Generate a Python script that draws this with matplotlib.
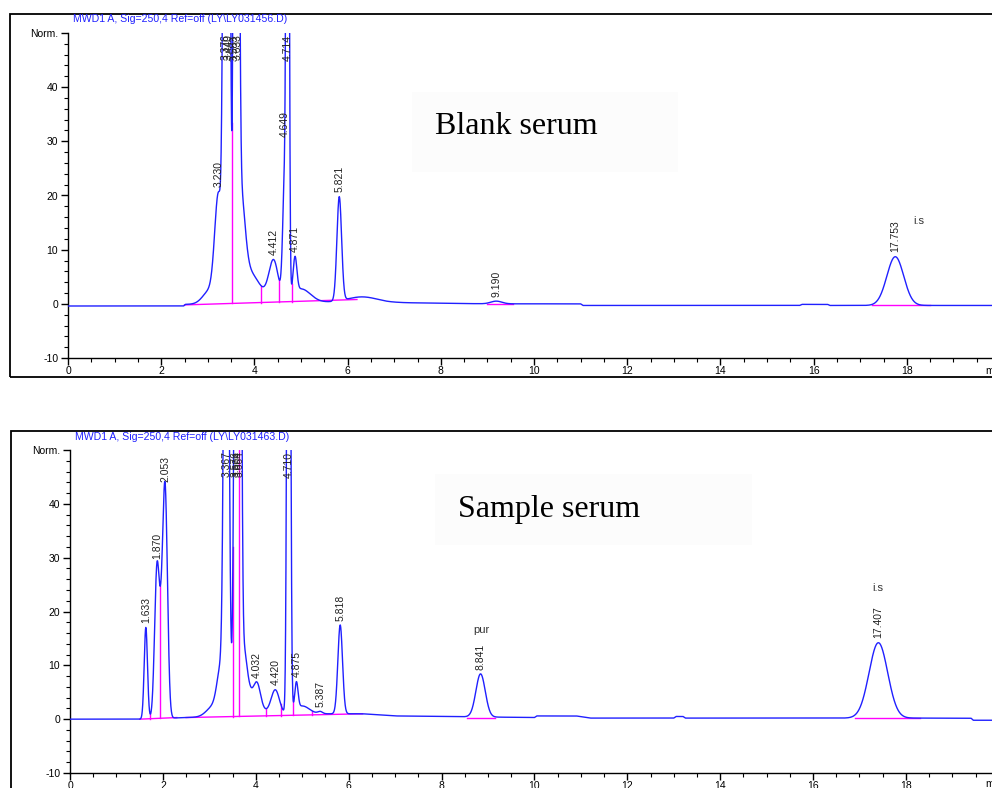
import numpy as np
import matplotlib
matplotlib.use("Agg")
import matplotlib.pyplot as plt
from matplotlib.patches import Rectangle

# ---------------- Blank serum (LY031456.D) ----------------
blank_title = "MWD1 A, Sig=250,4 Ref=off (LY\\LY031456.D)"
# integrated peaks: retention time (min), height (mAU), width (sigma, min)
blank_rt     = [3.230, 3.376, 3.440, 3.583, 3.633, 4.412, 4.649, 4.714, 4.871, 5.821, 9.190, 17.753]
blank_height = [19.0, 150.0, 150.0, 150.0, 150.0, 7.5, 22.0, 200.0, 6.5, 19.2, 0.5, 9.0]
blank_sigma  = [0.08, 0.04, 0.035, 0.03, 0.035, 0.10, 0.04, 0.025, 0.04, 0.05, 0.12, 0.18]
# unlabelled features of the trace (front, tails, humps)
blank_extra_rt     = [3.05, 3.70, 3.85, 5.00, 6.30]
blank_extra_height = [2.5, 16.0, 6.0, 2.5, 0.9]
blank_extra_sigma  = [0.15, 0.09, 0.25, 0.20, 0.30]
# detector baseline drift (min, mAU)
blank_base_t = [0.0, 2.48, 2.52, 5.3, 6.5, 7.3, 9.0, 11.0, 11.05, 15.7, 15.75, 16.3, 16.35, 20.0]
blank_base_v = [-0.4, -0.4, -0.1, 0.3, 0.4, 0.2, 0.0, 0.0, -0.3, -0.3, -0.1, -0.1, -0.3, -0.3]
# integration baselines (start, value, end, value) and peak drop lines (min)
blank_int_lines = [(2.50, -0.2, 6.20, 0.8), (9.00, 0.0, 9.55, 0.0), (17.25, -0.3, 18.50, -0.3)]
blank_drops = [3.52, 4.14, 4.53, 4.80]
blank_notes = [("i.s", 18.25, 15.3)]
blank_caption = "Blank serum"

# ---------------- Sample serum (LY031463.D) ----------------
sample_title = "MWD1 A, Sig=250,4 Ref=off (LY\\LY031463.D)"
sample_rt     = [1.633, 1.870, 2.053, 3.367, 3.576, 3.604, 3.664, 4.032, 4.420, 4.710, 4.875, 5.387, 5.818, 8.841, 17.407]
sample_height = [17.0, 26.0, 36.0, 150.0, 110.0, 120.0, 100.0, 3.5, 4.6, 200.0, 5.0, 0.4, 16.5, 8.0, 14.0]
sample_sigma  = [0.035, 0.05, 0.05, 0.045, 0.04, 0.03, 0.03, 0.07, 0.09, 0.03, 0.035, 0.05, 0.05, 0.10, 0.20]
sample_extra_rt     = [1.98, 3.10, 3.25, 3.72, 3.85, 5.00]
sample_extra_height = [15.0, 2.0, 8.0, 10.0, 4.0, 1.5]
sample_extra_sigma  = [0.06, 0.15, 0.08, 0.08, 0.20, 0.15]
sample_base_t = [0.0, 1.5, 2.5, 5.2, 6.3, 7.0, 10.0, 10.05, 10.9, 11.2, 13.0, 13.05, 13.2, 13.25, 19.4, 19.45, 20.0]
sample_base_v = [0.0, 0.0, 0.3, 1.0, 1.0, 0.6, 0.3, 0.6, 0.6, 0.2, 0.2, 0.5, 0.5, 0.2, 0.2, -0.2, -0.2]
sample_int_lines = [(1.50, 0.0, 2.30, 0.3), (2.50, 0.3, 6.30, 1.0), (8.55, 0.3, 9.15, 0.3), (16.90, 0.3, 18.30, 0.3)]
sample_drops = [1.72, 1.94, 3.51, 3.64, 4.22, 4.54, 4.80, 5.21, 5.60]
sample_notes = [("pur", 8.85, 16.6), ("i.s", 17.40, 24.4)]
sample_caption = "Sample serum"

YMIN, YMAX = -10, 50
t = np.linspace(0, 20, 10001)


def trace(rt, h, s, ert, eh, es, bt, bv):
    y = np.interp(t, bt, bv)
    for c, a, w in zip(list(rt) + list(ert), list(h) + list(eh), list(s) + list(es)):
        y = y + a * np.exp(-0.5 * ((t - c) / w) ** 2)
    return y


fig = plt.figure(figsize=(9.92, 7.88), dpi=100)
fig.patch.set_facecolor("white")
plt.rcParams["font.family"] = ["Liberation Sans", "DejaVu Sans"]

W, H = 992.0, 788.0


def px_rect(x0, y0, x1, y1):
    return [x0 / W, 1 - y1 / H, (x1 - x0) / W, (y1 - y0) / H]


def panel(ax_box, frame, xmax, title, title_xy, rt, h, s, ert, eh, es, bt, bv,
          int_lines, drops, notes, caption, cap_xy, cap_box, min_xy):
    # outer frame of the report page
    fx0, fy0, fx1, fy1 = frame
    fig.patches.append(Rectangle((fx0 / W, 1 - fy1 / H), (fx1 - fx0) / W, (fy1 - fy0) / H,
                                 transform=fig.transFigure, fill=False,
                                 edgecolor="black", linewidth=1.3))
    bx0, by0, bx1, by1 = cap_box
    fig.patches.append(Rectangle((bx0 / W, 1 - by1 / H), (bx1 - bx0) / W, (by1 - by0) / H,
                                 transform=fig.transFigure, facecolor="#fcfcfc",
                                 edgecolor="none", zorder=0))
    ax = fig.add_axes(px_rect(*ax_box))
    ax.patch.set_alpha(0)
    y = trace(rt, h, s, ert, eh, es, bt, bv)
    ax.plot(t, y, color="#2020ff", linewidth=1.0, zorder=3)

    # integration baselines and drop lines
    for (a0, v0, a1, v1) in int_lines:
        ax.plot([a0, a1], [v0, v1], color="#ff00ff", linewidth=1.0, zorder=2)

    def base_at(x):
        for (a0, v0, a1, v1) in int_lines:
            if a0 <= x <= a1:
                return v0 + (v1 - v0) * (x - a0) / (a1 - a0)
        return 0.0

    for d in drops:
        top = float(np.interp(d, t, y))
        ax.plot([d, d], [base_at(d), min(top, YMAX)], color="#ff00ff", linewidth=1.0, zorder=2)

    # retention time labels
    for c in rt:
        v = float(np.interp(c, t, y))
        if v > 44:
            ax.text(c, YMAX - 0.3, f"{c:.3f}", rotation=90, ha="center", va="top",
                    fontsize=7.5, color="#222222", zorder=4)
        else:
            ax.text(c, v + 0.8, f"{c:.3f}", rotation=90, ha="center", va="bottom",
                    fontsize=7.5, color="#222222", zorder=4)
    for txt, x, yy in notes:
        ax.text(x, yy, txt, ha="center", va="center", fontsize=8, color="#333333")

    ax.set_xlim(0, xmax)
    ax.set_ylim(YMIN, YMAX)
    for side in ("top", "right"):
        ax.spines[side].set_visible(False)
    ax.spines["left"].set_linewidth(1.0)
    ax.spines["bottom"].set_linewidth(1.0)
    ax.set_xticks(np.arange(0, 20, 2))
    ax.set_xticks(np.arange(0, 20, 0.5), minor=True)
    ax.set_yticks(np.arange(-10, 51, 10))
    ax.set_yticklabels(["-10", "0", "10", "20", "30", "40", "Norm."])
    ax.set_yticks(np.arange(-10, 51, 2), minor=True)
    ax.tick_params(axis="both", which="major", length=5, width=1.0, labelsize=7.5, pad=2)
    ax.tick_params(axis="both", which="minor", length=3, width=0.8)
    ax.tick_params(axis="x", pad=1)
    fig.text(title_xy[0] / W, 1 - title_xy[1] / H, title, fontsize=7.6, color="#2020ff",
             ha="left", va="center")
    fig.text(cap_xy[0] / W, 1 - cap_xy[1] / H, caption, fontsize=23,
             family=["Liberation Serif", "DejaVu Serif"], ha="center", va="center", color="black")
    fig.text(min_xy[0] / W, 1 - min_xy[1] / H, "min", fontsize=7.5, ha="left", va="center")
    return ax


panel((68, 33, 992, 358), (10, 14, 1000, 377), (992 - 68) / 46.6, blank_title, (73, 19),
      blank_rt, blank_height, blank_sigma, blank_extra_rt, blank_extra_height, blank_extra_sigma,
      blank_base_t, blank_base_v, blank_int_lines, blank_drops, blank_notes,
      blank_caption, (516, 126), (412, 92, 678, 172), (985, 371))

panel((70, 450, 992, 773), (11, 431, 1000, 800), (992 - 70) / 46.44, sample_title, (75, 437),
      sample_rt, sample_height, sample_sigma, sample_extra_rt, sample_extra_height, sample_extra_sigma,
      sample_base_t, sample_base_v, sample_int_lines, sample_drops, sample_notes,
      sample_caption, (549, 510), (435, 474, 752, 545), (985, 784))

fig.savefig("out.png", dpi=100, facecolor="white")
